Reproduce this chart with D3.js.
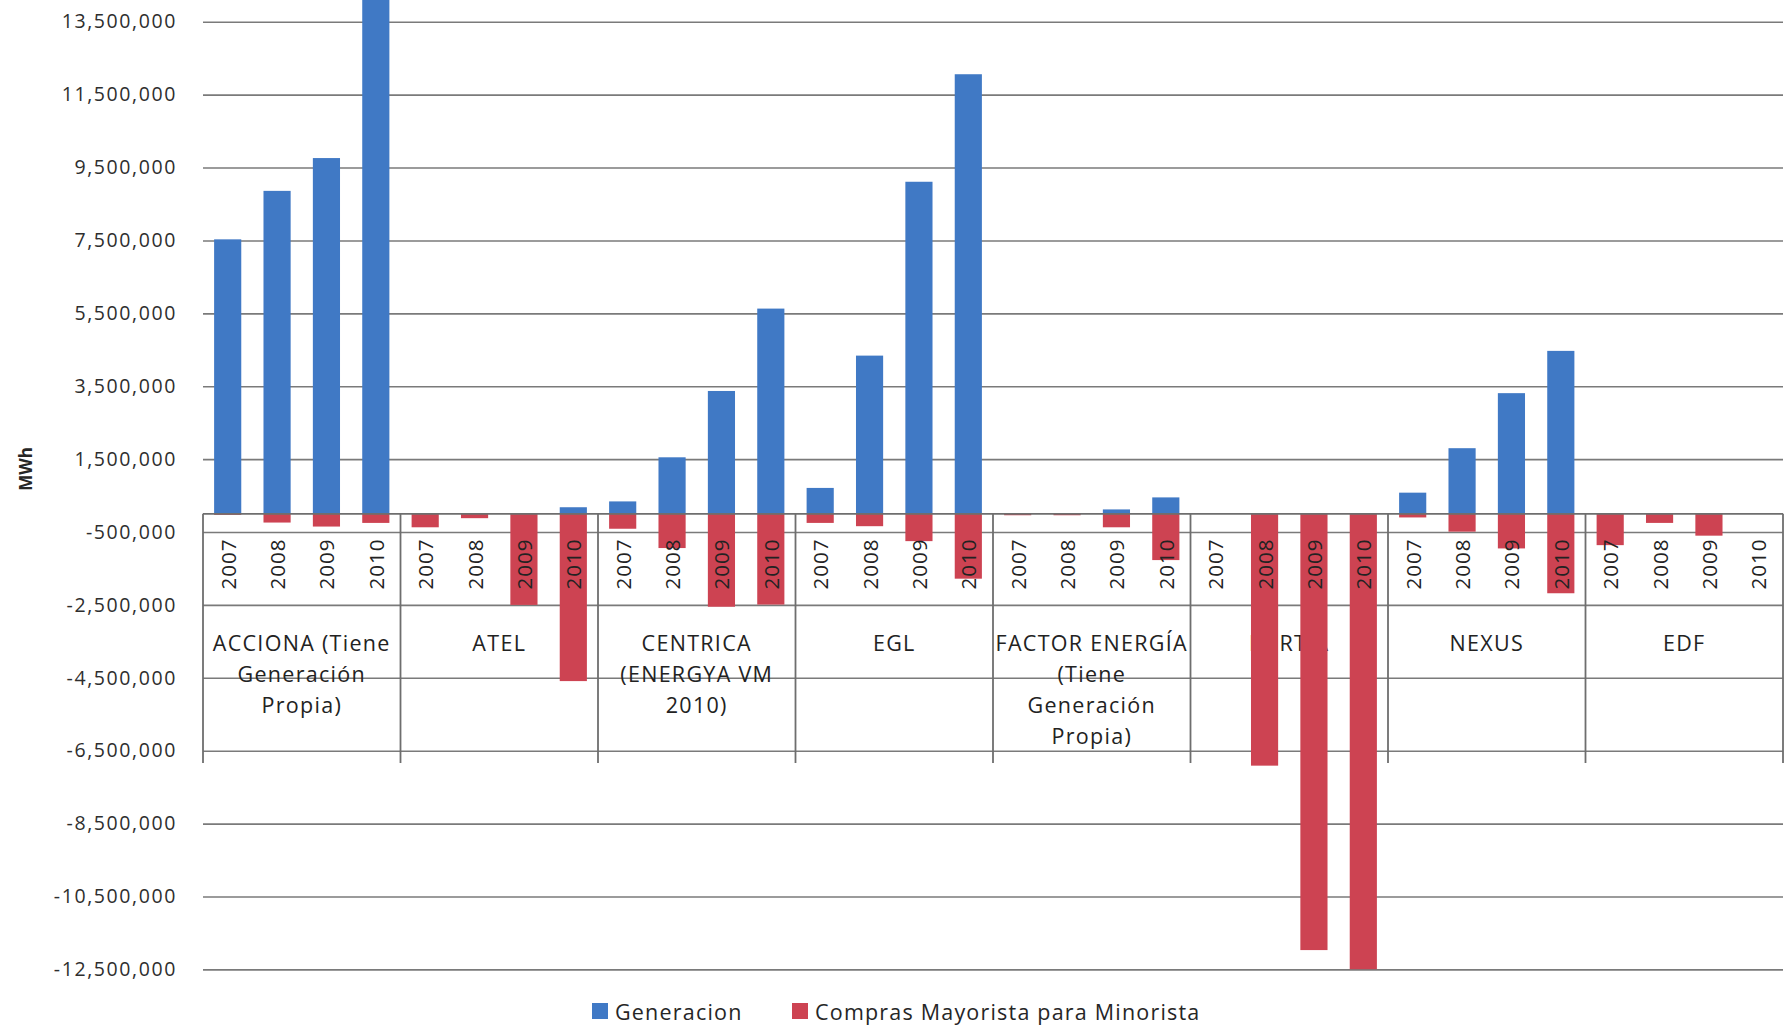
<!DOCTYPE html>
<html>
<head>
<meta charset="utf-8">
<script src="https://cdn.jsdelivr.net/npm/d3@7"></script>
<style>
  body { margin: 0; background: #fff; }
  svg text { font-family: "Open Sans", sans-serif; fill: #262626; }
</style>
</head>
<body>
<svg id="chart" width="1792" height="1029"></svg>
<script>
// data
const groups = ["ACCIONA", "ATEL", "CENTRICA", "EGL", "FACTOR", "FORTIA", "NEXUS", "EDF"];
const groupLabels = [
  ["ACCIONA (Tiene", "Generación", "Propia)"],
  ["ATEL"],
  ["CENTRICA", "(ENERGYA VM", "2010)"],
  ["EGL"],
  ["FACTOR ENERGÍA", "(Tiene", "Generación", "Propia)"],
  ["FORTIA"],
  ["NEXUS"],
  ["EDF"]
];
const years = ["2007", "2008", "2009", "2010"];

const generacion = [
  [7530000, 8860000, 9760000, 14600000],
  [0, 0, 0, 180000],
  [340000, 1550000, 3370000, 5630000],
  [710000, 4340000, 9110000, 12060000],
  [0, 0, 120000, 450000],
  [0, 0, 0, 0],
  [580000, 1800000, 3310000, 4470000],
  [0, 0, 0, 0]
];
const compras = [
  [-30000, -240000, -350000, -250000],
  [-370000, -120000, -2500000, -4590000],
  [-410000, -940000, -2550000, -2490000],
  [-250000, -340000, -750000, -1780000],
  [-40000, -40000, -370000, -1270000],
  [0, -6910000, -11970000, -12500000],
  [-100000, -490000, -950000, -2180000],
  [-860000, -250000, -600000, 0]
];

const yTicks = [-12500000, -10500000, -8500000, -6500000, -4500000, -2500000, -500000,
  1500000, 3500000, 5500000, 7500000, 9500000, 11500000, 13500000];

const seriesNames = ["Generacion", "Compras Mayorista para Minorista"];
const colors = ["#4079C5", "#CD4352"];

// layout
const W = 1792, H = 1029;
const plot = { left: 203, right: 1783 };
const tableBottom = 763;

const rows = [];
groups.forEach((g, gi) => {
  years.forEach((yr, yi) => {
    rows.push({ group: g, year: yr, gen: generacion[gi][yi], comp: compras[gi][yi] });
  });
});

// plain hyphen for negatives, like the excel export
const fmt = d3.formatLocale({ decimal: ".", thousands: ",", grouping: [3], currency: ["", ""], minus: "-" }).format(",");

const svg = d3.select("#chart");

const y = d3.scaleLinear()
  .domain([-12500000, 14500000])
  .range([969.4, -14.7]);

const x0 = d3.scaleBand()
  .domain(groups)
  .range([plot.left, plot.right]);

const x1 = d3.scaleBand()
  .domain(years)
  .range([0, x0.bandwidth()])
  .paddingInner(0.45)
  .paddingOuter(0.225);

// gridlines + tick labels
const yAxis = svg.append("g")
  .attr("transform", `translate(${plot.left},0)`)
  .call(d3.axisLeft(y)
    .tickValues(yTicks)
    .tickSize(-(plot.right - plot.left))
    .tickPadding(26)
    .tickFormat(fmt));
yAxis.select(".domain").remove();
yAxis.selectAll(".tick line")
  .attr("stroke", "#7a7a7a")
  .attr("stroke-width", 1.6);
yAxis.selectAll(".tick text")
  .attr("font-size", "19.5px")
  .attr("letter-spacing", "1.6px")
  .style("fill", "#2e2e2e");

// axis title
svg.append("text")
  .attr("transform", "translate(25,469) rotate(-90)")
  .attr("text-anchor", "middle")
  .attr("dominant-baseline", "central")
  .attr("font-size", "17px")
  .attr("font-weight", "bold")
  .text("MWh");

// group labels (under the bars)
const gl = svg.append("g").selectAll("g")
  .data(groups)
  .join("g");
gl.selectAll("text")
  .data((d, i) => groupLabels[i].map(t => ({ t: t, g: d })))
  .join("text")
    .attr("x", d => x0(d.g) + x0.bandwidth() / 2)
    .attr("y", (d, i) => 642 + i * 31.3)
    .attr("text-anchor", "middle")
    .attr("dominant-baseline", "central")
    .attr("font-size", "21.5px")
    .attr("letter-spacing", "1.3px")
    .style("fill", "#222")
    .text(d => d.t);

// bars
svg.append("clipPath").attr("id", "plotclip")
  .append("rect")
    .attr("x", plot.left).attr("y", 0)
    .attr("width", plot.right - plot.left)
    .attr("height", y(-12500000));

const bars = svg.append("g").attr("clip-path", "url(#plotclip)");

bars.selectAll("rect.gen")
  .data(rows.filter(d => d.gen > 0))
  .join("rect")
    .attr("class", "gen")
    .attr("x", d => x0(d.group) + x1(d.year))
    .attr("width", x1.bandwidth())
    .attr("y", d => y(d.gen))
    .attr("height", d => y(0) - y(d.gen))
    .attr("fill", colors[0]);

bars.selectAll("rect.comp")
  .data(rows.filter(d => d.comp < 0))
  .join("rect")
    .attr("class", "comp")
    .attr("x", d => x0(d.group) + x1(d.year))
    .attr("width", x1.bandwidth())
    .attr("y", y(0))
    .attr("height", d => y(d.comp) - y(0))
    .attr("fill", colors[1]);

// category axis line and table separators
svg.append("line")
  .attr("x1", plot.left).attr("x2", plot.right)
  .attr("y1", y(0)).attr("y2", y(0))
  .attr("stroke", "#6e6e6e")
  .attr("stroke-width", 1.8);

svg.append("g").selectAll("line")
  .data(groups.map(g => x0(g)).concat([plot.right]))
  .join("line")
    .attr("x1", d => d).attr("x2", d => d)
    .attr("y1", y(0)).attr("y2", tableBottom)
    .attr("stroke", "#6e6e6e")
    .attr("stroke-width", 1.8);

// year labels (drawn over the bars)
svg.append("g").selectAll("text")
  .data(rows)
  .join("text")
    .attr("transform", d => `translate(${x0(d.group) + x1(d.year) + x1.bandwidth() / 2},564) rotate(-90)`)
    .attr("text-anchor", "middle")
    .attr("dominant-baseline", "central")
    .attr("font-size", "20.5px")
    .attr("letter-spacing", "1px")
    .style("fill", "#222")
    .text(d => d.year);

// legend
const legendX = [592, 792];
const leg = svg.append("g").selectAll("g")
  .data(seriesNames)
  .join("g")
    .attr("transform", (d, i) => `translate(${legendX[i]},1011)`);
leg.append("rect")
  .attr("x", 0).attr("y", -8)
  .attr("width", 16).attr("height", 16)
  .attr("fill", (d, i) => colors[i]);
leg.append("text")
  .attr("x", 23)
  .attr("dominant-baseline", "central")
  .attr("font-size", "21.5px")
  .attr("letter-spacing", "1.2px")
  .text(d => d);
</script>
</body>
</html>
